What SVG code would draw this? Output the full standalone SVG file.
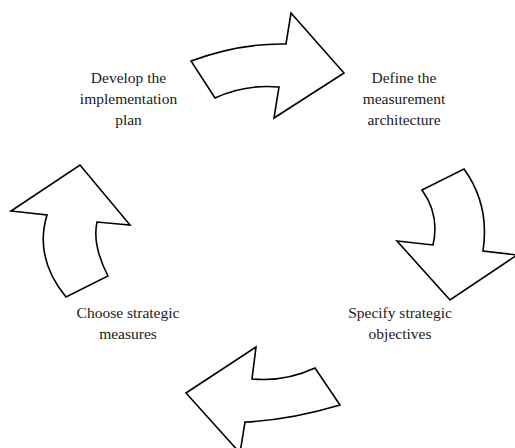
<svg xmlns="http://www.w3.org/2000/svg" width="515" height="448" viewBox="0 0 515 448">
  <style>
    .arrow { fill: #ffffff; stroke: #000000; stroke-width: 1.6; stroke-linejoin: miter; }
    .label { font-family: "Liberation Serif", "Times New Roman", serif; font-size: 15.5px; fill: #1a1a1a; text-anchor: middle; }
  </style>
  <rect width="515" height="448" fill="#ffffff"/>

  <!-- curved block arrows forming the cycle -->
  <g id="connectors">
    <!-- top: plan -> architecture -->
    <path class="arrow" d="M191,61 Q240,43 286,44 L291,13 L344,73 L274,118 L279,87 Q245,84 215,98 Z"/>
    <!-- right: architecture -> objectives -->
    <path class="arrow" d="M422,190 L464,169 Q490,205 483,251 L517,255 L450,300 L397,241 L433,245 Q440,215 422,190 Z"/>
    <!-- bottom: objectives -> measures -->
    <path class="arrow" d="M315,368 L340,405 Q290,420 245,422 L240,453 L186,393 L256,347 L252,379 Q285,382 315,368 Z"/>
    <!-- left: measures -> plan -->
    <path class="arrow" d="M66,297 Q34,258 47,215 L11,211 L80,165 L130,225 L97,222 Q92,245 108,276 Z"/>
  </g>

  <g id="node-plan">
    <text class="label" x="128.5" y="83">Develop the</text>
    <text class="label" x="128.5" y="104">implementation</text>
    <text class="label" x="128.5" y="125">plan</text>
  </g>

  <g id="node-architecture">
    <text class="label" x="404" y="83">Define the</text>
    <text class="label" x="404" y="104">measurement</text>
    <text class="label" x="404" y="125">architecture</text>
  </g>

  <g id="node-objectives">
    <text class="label" x="400" y="317.5">Specify strategic</text>
    <text class="label" x="400" y="338.5">objectives</text>
  </g>

  <g id="node-measures">
    <text class="label" x="128" y="317.5">Choose strategic</text>
    <text class="label" x="128" y="338.5">measures</text>
  </g>
</svg>
